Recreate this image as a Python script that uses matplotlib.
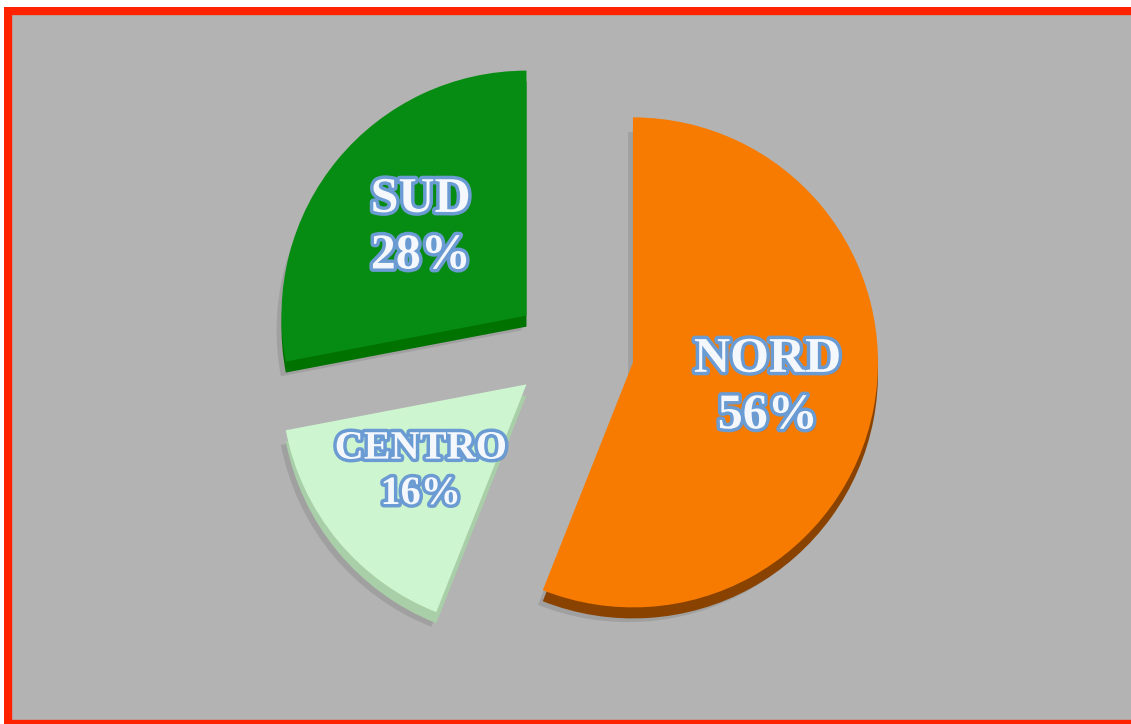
import matplotlib
matplotlib.use("Agg")
import matplotlib.pyplot as plt
import matplotlib.patheffects as pe
from matplotlib.patches import Rectangle

# data
regions = ["NORD", "CENTRO", "SUD"]
shares = [56, 16, 28]
colors = ["#f67b00", "#cdf5cf", "#068c12"]
side_colors = ["#8a4200", "#a9cfa9", "#007200"]
explode = [0.27, 0.22, 0.22]

W, H, DPI = 1131, 724, 100
fig = plt.figure(figsize=(W / DPI, H / DPI), dpi=DPI)
fig.patch.set_facecolor("#b3b3b3")
ax = fig.add_axes([0, 0, 1, 1])
ax.set_facecolor("#b3b3b3")

R = 1.0
px = 245.0
cx, cy = 568.0, 350.0

# shadow
ax.pie(shares, explode=explode, colors=["#8f8f8f"] * 3, startangle=90,
       counterclock=False, radius=R, center=(-0.02, -0.06),
       wedgeprops=dict(linewidth=0, alpha=0.5))
# depth (side)
ax.pie(shares, explode=explode, colors=side_colors, startangle=90,
       counterclock=False, radius=R, center=(0, -0.045),
       wedgeprops=dict(linewidth=0))
# top
wedges, texts, autotexts = ax.pie(
    shares, explode=explode, colors=colors, startangle=90,
    counterclock=False, radius=R, center=(0, 0),
    autopct="%1.0f%%", pctdistance=0.56,
    wedgeprops=dict(linewidth=0))

ax.set_xlim(-cx / px, (W - cx) / px)
ax.set_ylim(-(H - cy) / px, cy / px)
ax.set_aspect("auto")
ax.set_xticks([])
ax.set_yticks([])
for s in ax.spines.values():
    s.set_visible(False)

sizes = {"NORD": 36, "SUD": 36, "CENTRO": 29}
for name, val, t in zip(regions, shares, autotexts):
    t.set_text(f"{name}\n{val}%")
    t.set_fontfamily("Liberation Serif")
    t.set_fontweight("bold")
    t.set_fontsize(sizes[name])
    t.set_color("#f4f8fd")
    t.set_linespacing(1.3)
    t.set_ha("center")
    t.set_va("center")
    t.set_path_effects([
        pe.withSimplePatchShadow(offset=(2, -2), shadow_rgbFace="#555555", alpha=0.35),
        pe.Stroke(linewidth=5, foreground="#6b9bd3"),
        pe.Normal(),
    ])

# red frame
fig.patches.append(Rectangle((8 / W, 0), 1, 1 - 11 / H, transform=fig.transFigure,
                             facecolor="none", edgecolor="#ff2200", linewidth=6, zorder=10))
# white margins
fig.patches.append(Rectangle((0, 0), 4 / W, 1, transform=fig.transFigure,
                             facecolor="white", edgecolor="none", zorder=11))
fig.patches.append(Rectangle((0, 1 - 7 / H), 1, 7 / H, transform=fig.transFigure,
                             facecolor="white", edgecolor="none", zorder=11))

fig.savefig("out.png", dpi=DPI, facecolor="#b3b3b3")
